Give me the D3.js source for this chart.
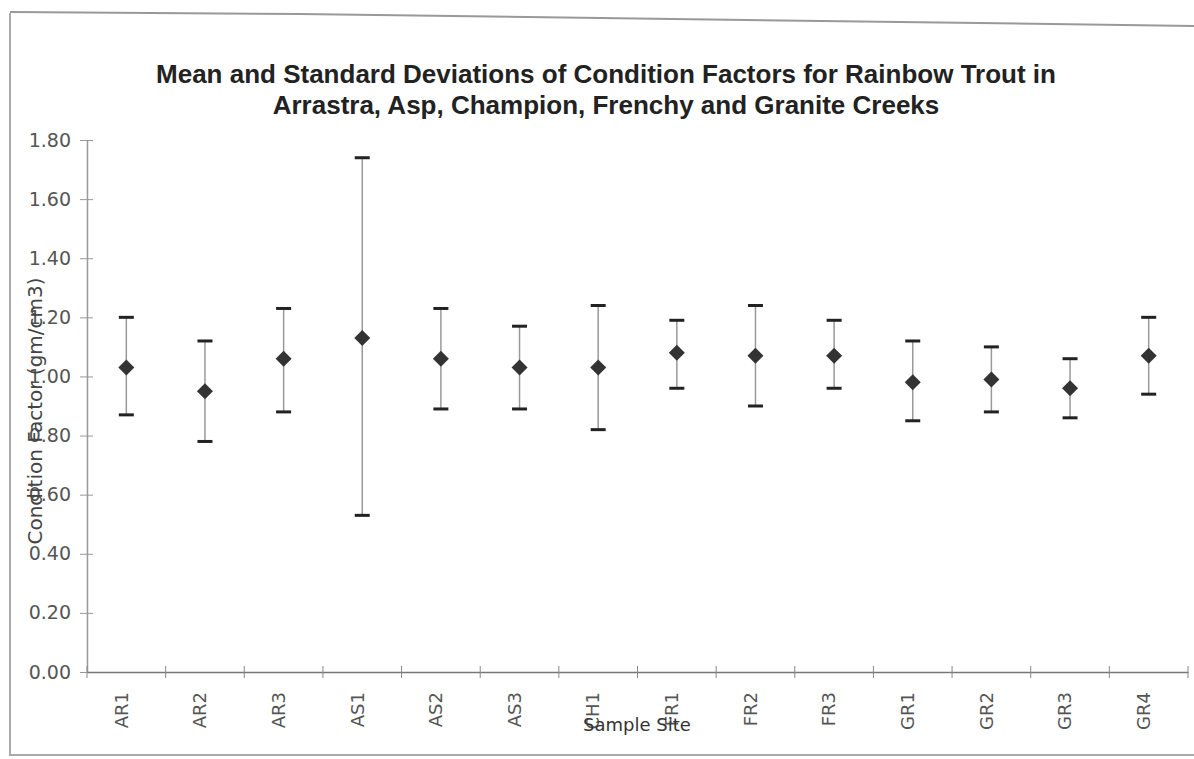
<!DOCTYPE html>
<html>
<head>
<meta charset="utf-8">
<script src="https://cdn.jsdelivr.net/npm/d3@7"></script>
<style>
body { margin: 0; background: #fff; }
text { font-family: "DejaVu Sans", sans-serif; }
</style>
</head>
<body>
<script>
var sites = ["AR1", "AR2", "AR3", "AS1", "AS2", "AS3", "CH1", "FR1", "FR2", "FR3", "GR1", "GR2", "GR3", "GR4"];
var means = [1.03, 0.95, 1.06, 1.13, 1.06, 1.03, 1.03, 1.08, 1.07, 1.07, 0.98, 0.99, 0.96, 1.07];
var upper = [1.20, 1.12, 1.23, 1.74, 1.23, 1.17, 1.24, 1.19, 1.24, 1.19, 1.12, 1.10, 1.06, 1.20];
var lower = [0.87, 0.78, 0.88, 0.53, 0.89, 0.89, 0.82, 0.96, 0.90, 0.96, 0.85, 0.88, 0.86, 0.94];
var yTicks = [0, 0.2, 0.4, 0.6, 0.8, 1.0, 1.2, 1.4, 1.6, 1.8];
var titleLines = ["Mean and Standard Deviations of Condition Factors for Rainbow Trout in",
	"Arrastra, Asp, Champion, Frenchy and Granite Creeks"];

var W = 1194, H = 759;
var plotLeft = 87, plotRight = 1188, plotTop = 140, plotBottom = 672;

var svg = d3.select("body")
	.append("svg")
	.attr("width", W)
	.attr("height", H);

// paper edge of the scan
svg.append("path")
	.attr("d", "M 10 13 L 10 755 L 1194 755")
	.attr("fill", "none")
	.attr("stroke", "#aaa")
	.attr("stroke-width", 2);
svg.append("path")
	.attr("d", "M 10 12 L 300 14 L 600 18 L 900 22 L 1194 26")
	.attr("fill", "none")
	.attr("stroke", "#999")
	.attr("stroke-width", 2);

var x = d3.scaleBand()
	.domain(sites)
	.range([plotLeft, plotRight]);

var y = d3.scaleLinear()
	.domain([0, 1.8])
	.range([plotBottom, plotTop]);

var data = sites.map(function (s, i) {
	return {site: s, mean: means[i], hi: upper[i], lo: lower[i]};
});

// title
svg.append("g")
	.selectAll("text")
	.data(titleLines)
	.join("text")
	.attr("x", 606)
	.attr("y", function (d, i) { return 83 + i * 31; })
	.attr("text-anchor", "middle")
	.style("font-family", "'Liberation Sans', Arial, sans-serif")
	.style("font-weight", "bold")
	.style("font-size", "26px")
	.attr("fill", "#222")
	.text(function (d) { return d; });

// y axis
var yAxis = svg.append("g")
	.attr("transform", "translate(" + plotLeft + ",0)")
	.call(d3.axisLeft(y).tickValues(yTicks).tickFormat(d3.format(".2f")).tickSizeInner(6).tickSizeOuter(0));
yAxis.select(".domain").attr("stroke", "#999").attr("stroke-width", 1.5);
yAxis.selectAll(".tick line")
	.attr("x1", -7).attr("x2", 6)
	.attr("stroke", "#999");
yAxis.selectAll(".tick text")
	.attr("x", -16)
	.style("font-size", "19px")
	.attr("fill", "#555");

// x axis
var xAxis = svg.append("g")
	.attr("transform", "translate(0," + plotBottom + ")")
	.call(d3.axisBottom(x).tickSize(0));
xAxis.select(".domain").attr("stroke", "#777").attr("stroke-width", 1.5);
xAxis.selectAll(".tick text")
	.attr("transform", "rotate(-90)")
	.attr("text-anchor", "end")
	.attr("x", -20)
	.attr("y", -5)
	.attr("dy", "0.35em")
	.style("font-size", "18px")
	.attr("fill", "#555");
xAxis.selectAll(".tick line").remove();
xAxis.selectAll(".sep")
	.data(sites.concat(["end"]))
	.join("line")
	.classed("sep", true)
	.attr("x1", function (d, i) { return plotLeft + i * x.bandwidth(); })
	.attr("x2", function (d, i) { return plotLeft + i * x.bandwidth(); })
	.attr("y1", -6)
	.attr("y2", 6)
	.attr("stroke", "#888");

// axis titles
svg.append("text")
	.attr("transform", "translate(42,411) rotate(-90)")
	.attr("text-anchor", "middle")
	.style("font-size", "20px")
	.attr("fill", "#444")
	.text("Condition Factor (gm/cm3)");
svg.append("text")
	.attr("x", 637)
	.attr("y", 731)
	.attr("text-anchor", "middle")
	.style("font-size", "18px")
	.attr("fill", "#333")
	.text("Sample Site");

// error bars
var cx = function (d) { return x(d.site) + x.bandwidth() / 2; };
var bars = svg.append("g")
	.selectAll("g")
	.data(data)
	.join("g");
bars.append("line")
	.attr("x1", cx).attr("x2", cx)
	.attr("y1", function (d) { return y(d.hi); })
	.attr("y2", function (d) { return y(d.lo); })
	.attr("stroke", "#999")
	.attr("stroke-width", 1.5);
bars.append("line")
	.attr("x1", function (d) { return cx(d) - 7.5; })
	.attr("x2", function (d) { return cx(d) + 7.5; })
	.attr("y1", function (d) { return y(d.hi); })
	.attr("y2", function (d) { return y(d.hi); })
	.attr("stroke", "#222")
	.attr("stroke-width", 3);
bars.append("line")
	.attr("x1", function (d) { return cx(d) - 7.5; })
	.attr("x2", function (d) { return cx(d) + 7.5; })
	.attr("y1", function (d) { return y(d.lo); })
	.attr("y2", function (d) { return y(d.lo); })
	.attr("stroke", "#222")
	.attr("stroke-width", 3);
bars.append("path")
	.attr("transform", function (d) { return "translate(" + cx(d) + "," + y(d.mean) + ")"; })
	.attr("d", "M 0 -8 L 8 0 L 0 8 L -8 0 Z")
	.attr("fill", "#333");
</script>
</body>
</html>
